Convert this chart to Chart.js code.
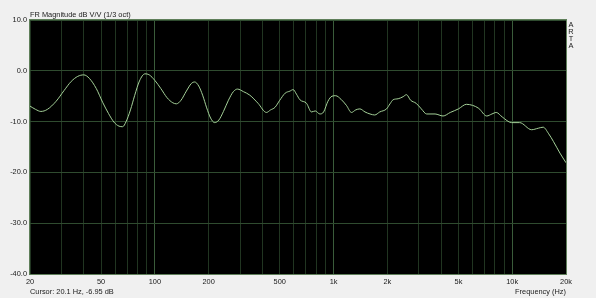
<!DOCTYPE html>
<html>
<head>
<meta charset="utf-8">
<script src="https://cdn.jsdelivr.net/npm/chart.js@4.4.1/dist/chart.umd.min.js"></script>
<style>
  html, body { margin: 0; padding: 0; background: #f0f0f0; }
  #wrap { width: 596px; height: 298px; }
</style>
</head>
<body>
<div id="wrap"><canvas id="fr" width="596" height="298"></canvas></div>
<script>
// frequency response, 1/3 oct smoothed
const freqHz = [
  20, 21.5, 23, 25, 28, 31, 34, 37, 40, 43, 47, 51, 55, 59, 63, 66, 69, 73, 77, 82,
  88, 93, 100, 108, 117, 126, 132, 140, 150, 160, 167, 176, 185, 195, 205, 216, 228, 242, 258, 275,
  290, 313, 340, 378, 421, 444, 470, 500, 536, 570, 594, 620, 648, 706, 752, 790, 838, 880, 930, 980,
  1028, 1100, 1180, 1260, 1330, 1404, 1500, 1600, 1700, 1814, 1980, 2070, 2154, 2300, 2450, 2560, 2700, 2900, 3100, 3320,
  3700, 4100, 4500, 5000, 5540, 6000, 6500, 7200, 7700, 8140, 8800, 9920, 11000, 12840, 14000, 14900, 16000, 17000, 18500, 20000
];
const magDb = [
  -6.95, -7.6, -8.0, -7.6, -6.0, -3.9, -2.1, -1.1, -0.8, -1.5, -3.5, -6.2, -8.4, -10.1, -10.9, -11.0, -10.0, -7.7, -4.9, -2.0,
  -0.6, -0.8, -1.9, -3.5, -5.3, -6.3, -6.5, -5.8, -4.0, -2.5, -2.2, -3.0, -4.8, -7.3, -9.3, -10.2, -9.7, -8.0, -5.8, -4.1,
  -3.6, -4.1, -4.8, -6.4, -8.2, -7.7, -7.2, -5.8, -4.4, -4.0, -3.7, -4.6, -5.7, -6.4, -8.1, -7.9, -8.5, -8.1, -6.0, -5.0,
  -4.9, -5.6, -6.8, -8.2, -7.7, -7.5, -8.1, -8.5, -8.7, -8.1, -7.5, -6.5, -5.7, -5.5, -5.1, -4.7, -5.8, -6.4, -7.5, -8.5,
  -8.5, -8.9, -8.2, -7.5, -6.6, -6.8, -7.4, -8.9, -8.5, -8.2, -9.1, -10.2, -10.2, -11.6, -11.3, -11.1, -12.4, -13.9, -16.2, -18.1
];

// grid lines on the log axis, labelled ones, brighter decade lines
const gridHz = [
  20, 30, 40, 50, 60, 70, 80, 90, 100, 200, 300, 400, 500, 600, 700, 800, 900,
  1000, 2000, 3000, 4000, 5000, 6000, 7000, 8000, 9000, 10000, 20000
];
const labelHz = [20, 50, 100, 200, 500, 1000, 2000, 5000, 10000, 20000];
const majorHz = [100, 1000, 10000];
const yTicks = [10, 0, -10, -20, -30, -40];

const FONT = "'Liberation Sans', Arial, sans-serif";
const TXT = '#202020';

function hzLabel(v) {
  return v >= 1000 ? (v / 1000) + 'k' : String(v);
}

// background, black plot area, frame and the loose texts of the ARTA window
const artaFrame = {
  id: 'artaFrame',
  beforeDraw(chart) {
    const { ctx, chartArea: a } = chart;
    ctx.save();
    ctx.fillStyle = '#f0f0f0';
    ctx.fillRect(0, 0, chart.width, chart.height);
    ctx.fillStyle = '#000000';
    ctx.fillRect(a.left, a.top, a.right - a.left, a.bottom - a.top);
    ctx.restore();
  },
  afterDraw(chart) {
    const { ctx, chartArea: a } = chart;
    ctx.save();
    ctx.strokeStyle = '#5f7f5a';
    ctx.lineWidth = 1;
    ctx.strokeRect(a.left - 0.5, a.top - 0.5, a.right - a.left + 1, a.bottom - a.top + 1);

    ctx.fillStyle = TXT;
    ctx.font = '7.4px ' + FONT;
    ctx.textBaseline = 'alphabetic';
    ctx.textAlign = 'left';
    ctx.fillText('FR Magnitude dB V/V (1/3 oct)', a.left, 17);
    ctx.fillText('Cursor: 20.1 Hz, -6.95 dB', a.left, 294);
    ctx.textAlign = 'right';
    ctx.fillText('Frequency (Hz)', a.right, 294);

    ctx.textAlign = 'center';
    ['A', 'R', 'T', 'A'].forEach((ch, i) => ctx.fillText(ch, 571, 26.7 + i * 7.2));
    ctx.restore();
  }
};

new Chart(document.getElementById('fr'), {
  type: 'line',
  data: {
    datasets: [{
      label: 'FR',
      data: freqHz.map((f, i) => ({ x: f, y: magDb[i] })),
      borderColor: '#a4d098',
      borderWidth: 1,
      pointRadius: 0,
      cubicInterpolationMode: 'monotone',
      fill: false
    }]
  },
  options: {
    responsive: false,
    devicePixelRatio: 1,
    animation: false,
    events: [],
    layout: { padding: { left: 0, top: 20, right: 30, bottom: 0 } },
    plugins: {
      legend: { display: false },
      tooltip: { enabled: false },
      title: { display: false }
    },
    scales: {
      x: {
        type: 'logarithmic',
        min: 20,
        max: 20000,
        afterBuildTicks(s) { s.ticks = gridHz.map(v => ({ value: v })); },
        afterFit(s) { s.height = 24; s.paddingLeft = 0; s.paddingRight = 0; },
        ticks: {
          autoSkip: false,
          maxRotation: 0,
          minRotation: 0,
          padding: 4,
          color: TXT,
          font: { family: FONT, size: 7.4 },
          callback: v => labelHz.includes(v) ? hzLabel(v) : ''
        },
        grid: {
          drawTicks: false,
          color: c => majorHz.includes(c.tick && c.tick.value) ? '#3a5c3a' : '#213521',
          lineWidth: 1
        },
        border: { display: false }
      },
      y: {
        min: -40,
        max: 10,
        afterBuildTicks(s) { s.ticks = yTicks.map(v => ({ value: v })); },
        afterFit(s) { s.width = 30; s.paddingTop = 0; s.paddingBottom = 0; },
        ticks: {
          padding: 3,
          color: TXT,
          font: { family: FONT, size: 7.4 },
          callback: v => v.toFixed(1)
        },
        grid: { drawTicks: false, color: '#2f4b2f', lineWidth: 1 },
        border: { display: false }
      }
    }
  },
  plugins: [artaFrame]
});
</script>
</body>
</html>
